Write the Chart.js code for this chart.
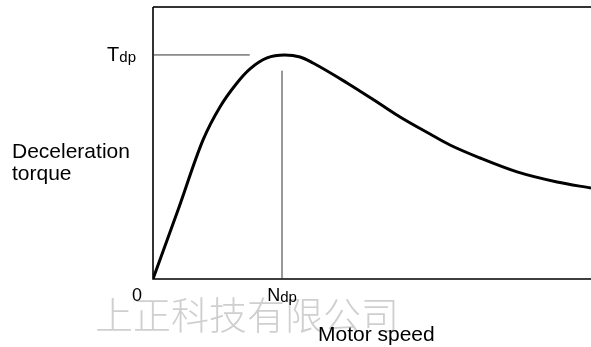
<!DOCTYPE html>
<html>
<head>
<meta charset="utf-8">
<script src="https://cdn.jsdelivr.net/npm/chart.js@4/dist/chart.umd.min.js"></script>
<style>
  html, body { margin: 0; padding: 0; background: #fff; }
  #box { width: 591px; height: 347px; position: relative; }
</style>
</head>
<body>
<div id="box"><canvas id="grafico"></canvas></div>
<script>
// curva de torque de desaceleração (unidades relativas: Ndp = 1, Tdp = 1)
const velocidade = [0, 0.194, 0.388, 0.519, 0.651, 0.752, 0.884, 1.02, 1.14, 1.24, 1.504, 1.76, 1.915, 2.147, 2.302, 2.535, 2.822, 3.132, 3.395];
const torque     = [0, 0.308, 0.621, 0.768, 0.875, 0.938, 0.987, 1.0, 0.991, 0.964, 0.875, 0.781, 0.723, 0.647, 0.598, 0.540, 0.478, 0.433, 0.406];

const ndp = 1;
const tdp = 1;
const fimLinhaTdp = 0.75;   // até onde vai a linha horizontal de Tdp (velocidade)
const topoLinhaNdp = 0.93;  // até onde sobe a linha vertical de Ndp (torque)
const velocidadeMax = 3.395;
const torqueMax = 1.214;

const rotuloZero = "0";
const rotuloNdp = ["N", "dp"];
const rotuloTdp = ["T", "dp"];
const tituloY = ["Deceleration", "torque"];
const tituloX = "Motor speed";
const marcaDagua = "上正科技有限公司";

const fonte = '"Liberation Sans", Arial, sans-serif';

const pontosCurva = velocidade.map((v, i) => ({ x: v, y: torque[i] }));

const desenhoExtra = {
  id: "desenhoExtra",
  beforeDatasetsDraw(chart) {
    const { ctx, chartArea: a } = chart;
    ctx.save();
    // borda superior
    ctx.strokeStyle = "#333";
    ctx.lineWidth = 2;
    ctx.beginPath();
    ctx.moveTo(a.left, a.top);
    ctx.lineTo(a.right, a.top);
    ctx.stroke();
    // eixos
    ctx.strokeStyle = "#000";
    ctx.lineWidth = 1.6;
    ctx.beginPath();
    ctx.moveTo(a.left, a.top);
    ctx.lineTo(a.left, a.bottom);
    ctx.lineTo(a.right, a.bottom);
    ctx.stroke();
    ctx.restore();
  },
  afterDraw(chart) {
    const { ctx } = chart;
    const x = chart.scales.x;
    const y = chart.scales.y;
    ctx.save();

    // marca d'água
    ctx.font = '300 38px "Noto Sans CJK SC", sans-serif';
    ctx.fillStyle = "rgba(160,160,160,0.5)";
    ctx.textAlign = "left";
    ctx.textBaseline = "middle";
    ctx.fillText(marcaDagua, 95, 315);

    ctx.fillStyle = "#000";
    ctx.textBaseline = "alphabetic";

    // rótulo 0
    ctx.font = "18px " + fonte;
    ctx.textAlign = "center";
    ctx.fillText(rotuloZero, x.getPixelForValue(0) - 16, 301);

    // rótulo Ndp
    const xN = x.getPixelForValue(ndp);
    ctx.textAlign = "left";
    ctx.font = "18px " + fonte;
    const wN = ctx.measureText(rotuloNdp[0]).width;
    ctx.font = "15px " + fonte;
    const wdp = ctx.measureText(rotuloNdp[1]).width;
    const inicioN = xN - (wN + wdp) / 2;
    ctx.font = "18px " + fonte;
    ctx.fillText(rotuloNdp[0], inicioN, 301);
    ctx.font = "15px " + fonte;
    ctx.fillText(rotuloNdp[1], inicioN + wN, 302);

    // rótulo Tdp
    const yT = y.getPixelForValue(tdp);
    ctx.font = "15px " + fonte;
    const wTdp = ctx.measureText(rotuloTdp[1]).width;
    ctx.textAlign = "right";
    ctx.fillText(rotuloTdp[1], x.getPixelForValue(0) - 17, yT + 7);
    ctx.font = "20px " + fonte;
    ctx.fillText(rotuloTdp[0], x.getPixelForValue(0) - 17 - wTdp, yT + 6);

    // títulos
    ctx.textAlign = "left";
    ctx.font = "21px " + fonte;
    ctx.fillText(tituloY[0], 12, 158);
    ctx.fillText(tituloY[1], 12, 180);
    ctx.fillText(tituloX, 318, 341);
    ctx.restore();
  }
};

new Chart(document.getElementById("grafico"), {
  type: "line",
  data: {
    datasets: [
      {
        data: pontosCurva,
        borderColor: "#000",
        borderWidth: 3,
        pointRadius: 0,
        cubicInterpolationMode: "monotone",
        fill: false
      },
      {
        data: [{ x: 0, y: tdp }, { x: fimLinhaTdp, y: tdp }],
        borderColor: "#333",
        borderWidth: 1,
        pointRadius: 0
      },
      {
        data: [{ x: ndp, y: 0 }, { x: ndp, y: topoLinhaNdp }],
        borderColor: "#333",
        borderWidth: 1,
        pointRadius: 0
      }
    ]
  },
  options: {
    responsive: true,
    maintainAspectRatio: false,
    animation: false,
    layout: { padding: { left: 153, top: 7, right: 0, bottom: 68 } },
    plugins: { legend: { display: false }, tooltip: { enabled: false } },
    scales: {
      x: { type: "linear", min: 0, max: velocidadeMax, display: false },
      y: { type: "linear", min: 0, max: torqueMax, display: false }
    }
  },
  plugins: [desenhoExtra]
});
</script>
</body>
</html>
